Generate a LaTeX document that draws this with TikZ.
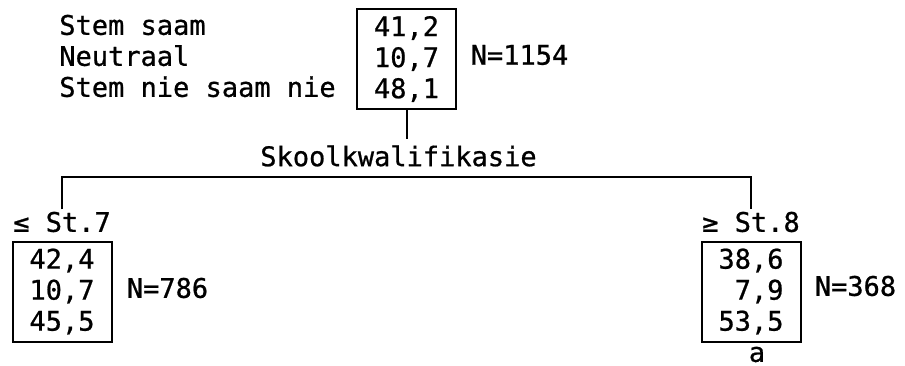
\documentclass[tikz,border=0pt]{standalone}
\usepackage{fontspec}
\setmainfont[FakeBold=0.8]{DejaVu Sans Mono}
\usetikzlibrary{calc, positioning}
\tikzset{
    cell/.style={
           rectangle,
           draw=black, line width=2pt,
           minimum width=99pt,
           minimum height=100pt,
           inner sep=0pt,
           align=right,
           },
    tag/.style={
           inner sep=1.5pt,
           },
}

\begin{document}
\begin{tikzpicture}[node distance=100pt,
                    font=\fontsize{27}{31}\selectfont,
                    line width=2pt]

 \useasboundingbox (0,0) rectangle (905pt,-365pt);

 \node[cell] (TOTAL) at (406.5pt,-59pt)
 {%
  41,2\\ 10,7\\ 48,1%
 };

 \node[tag,
  align=left,
  left of=TOTAL,
  xshift=-109pt,
  yshift=3pt] (ANSWERS)
 {%
  Stem saam\\ Neutraal\\ Stem nie saam nie%
 };

 \node[tag,
  right of=TOTAL,
  xshift=13pt,
  yshift=4pt] (N_TOTAL)
 {%
  N=1154%
 };

 \node[tag,
  below of=TOTAL,
  xshift=-8pt,
  yshift=3pt] (SPLIT)
 {%
  Skoolkwalifikasie%
 };

 \node[cell,
  below of=TOTAL,
  xshift=-344.5pt,
  yshift=-132.5pt] (LOW)
 {%
  42,4\\ 10,7\\ 45,5%
 };

 \node[cell,
  right of=LOW,
  xshift=589pt] (HIGH)
 {%
  38,6\\ 7,9\\ 53,5%
 };

 \node[tag,
  above of=LOW,
  yshift=-30.5pt] (LOW_LABEL)
 {%
  ≤ St.7%
 };

 \node[tag,
  above of=HIGH,
  yshift=-30.5pt] (HIGH_LABEL)
 {%
  ≥ St.8%
 };

 \node[tag,
  right of=LOW,
  xshift=5.5pt,
  yshift=3.5pt] (N_LOW)
 {%
  N=786%
 };

 \node[tag,
  right of=HIGH,
  xshift=4.5pt,
  yshift=5.5pt] (N_HIGH)
 {%
  N=368%
 };

 \node[tag,
  inner sep=0pt,
  below of=HIGH,
  xshift=6pt,
  yshift=37pt] (NOTE)
 {%
  a%
 };

 \coordinate (BAR) at ($(SPLIT.south)+(0,-8pt)$);

 \draw (TOTAL.south) -- ($(TOTAL.south |- SPLIT.north)+(0,4pt)$);
 \draw (LOW_LABEL.north) |- (BAR) -| (HIGH_LABEL.north);

\end{tikzpicture}
\end{document}
